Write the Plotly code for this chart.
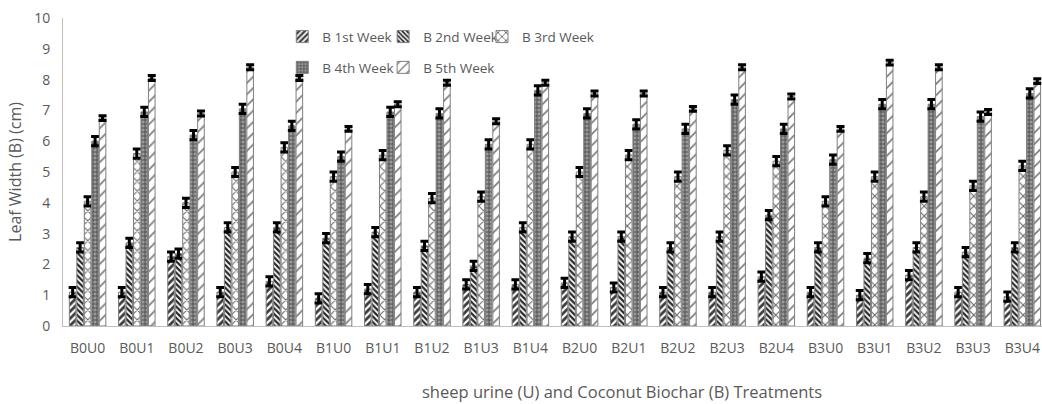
import plotly.graph_objects as go

categories = ["B0U0","B0U1","B0U2","B0U3","B0U4","B1U0","B1U1","B1U2","B1U3","B1U4",
              "B2U0","B2U1","B2U2","B2U3","B2U4","B3U0","B3U1","B3U2","B3U3","B3U4"]
week1 = [1.1, 1.1, 2.25, 1.1, 1.45, 0.9, 1.2, 1.1, 1.35, 1.35, 1.4, 1.25, 1.1, 1.1, 1.6, 1.1, 1.0, 1.65, 1.1, 0.95]
week2 = [2.55, 2.7, 2.35, 3.2, 3.2, 2.85, 3.05, 2.6, 1.95, 3.2, 2.9, 2.9, 2.55, 2.9, 3.6, 2.55, 2.2, 2.55, 2.4, 2.55]
week3 = [4.05, 5.6, 4.0, 5.0, 5.8, 4.85, 5.55, 4.15, 4.2, 5.9, 5.0, 5.55, 4.85, 5.7, 5.35, 4.05, 4.85, 4.2, 4.55, 5.2]
week4 = [6.0, 6.95, 6.2, 7.05, 6.5, 5.5, 6.95, 6.9, 5.9, 7.65, 6.9, 6.55, 6.4, 7.35, 6.4, 5.4, 7.2, 7.2, 6.8, 7.55]
week5 = [6.75, 8.05, 6.9, 8.4, 8.05, 6.4, 7.2, 7.9, 6.65, 7.9, 7.55, 7.55, 7.05, 8.4, 7.45, 6.4, 8.55, 8.4, 6.95, 7.95]
err = [0.15] * 20
err5 = [0.08] * 20
series_names = ["B 1st Week", "B 2nd Week", "B 3rd Week", "B 4th Week", "B 5th Week"]

styles = [
    dict(color="#3c3c3c", shape="/", fg="#ffffff", size=5, sol=0.45),
    dict(color="#ffffff", shape="\\", fg="#2a2a2a", size=4, sol=0.55),
    dict(color="#ffffff", shape="x", fg="#6a6a6a", size=7, sol=0.3),
    dict(color="#9a9a9a", shape="+", fg="#4a4a4a", size=4, sol=0.4),
    dict(color="#ffffff", shape="/", fg="#777777", size=8, sol=0.2),
]
# legend placement (paper coords relative to plot area)
legend_ids = ["legend", "legend2", "legend3", "legend4", "legend5"]
legend_x = [0.224, 0.327, 0.428, 0.224, 0.327]
legend_y = [0.939, 0.939, 0.939, 0.839, 0.839]

data = [week1, week2, week3, week4, week5]
errs = [err, err, err, err, err5]

font = dict(family="Open Sans, Lato, sans-serif", color="#595959", size=14)
legend_font = dict(family="Open Sans, Lato, sans-serif", color="#595959", size=13.5)

fig = go.Figure()
for name, vals, st, e, lid in zip(series_names, data, styles, errs, legend_ids):
    fig.add_trace(go.Bar(
        x=categories, y=vals, name=name, showlegend=True,
        marker=dict(color=st["color"], line=dict(color="#7f7f7f", width=1),
                    pattern=dict(shape=st["shape"], fgcolor=st["fg"], bgcolor=st["color"],
                                 size=st["size"], solidity=st["sol"], fillmode="replace")),
        error_y=dict(type="data", array=e, color="black", thickness=3, width=4, visible=True),
        legend=lid,
    ))

legend_layout = {}
for lid, lx, ly in zip(legend_ids, legend_x, legend_y):
    legend_layout[lid] = dict(orientation="h", x=lx, y=ly, xanchor="left", yanchor="middle",
                              font=legend_font, bgcolor="rgba(0,0,0,0)", itemwidth=30, visible=True)

fig.update_layout(
    width=1042, height=404,
    showlegend=True,
    margin=dict(l=63, r=0, t=18, b=78, autoexpand=False),
    paper_bgcolor="white", plot_bgcolor="white",
    barmode="group", bargap=0.24, bargroupgap=0.12,
    font=font,
    xaxis=dict(range=[-0.5, 19.4], showline=True, linecolor="#bfbfbf", linewidth=1,
               ticks="", tickfont=dict(size=14, color="#595959"), automargin=False,
               ticklabelstandoff=9),
    yaxis=dict(range=[0, 10], dtick=1, showline=True, linecolor="#bfbfbf", linewidth=1,
               showgrid=False, zeroline=False, ticks="", ticklabelstandoff=9,
               tickfont=dict(size=14, color="#595959"), automargin=False,
               title=dict(text="Leaf Width (B) (cm)", font=dict(size=16, color="#595959"), standoff=8)),
    annotations=[dict(text="sheep urine (U) and Coconut Biochar (B) Treatments",
                      xref="paper", yref="paper", x=0.571, y=-0.212,
                      xanchor="center", yanchor="middle", showarrow=False,
                      font=dict(size=16.5, color="#595959", family="Open Sans, Lato, sans-serif"))],
    **legend_layout,
)

fig.write_html("out.html", config={"displayModeBar": False},
               post_script="document.body.style.margin='0';document.body.style.overflow='hidden';")
